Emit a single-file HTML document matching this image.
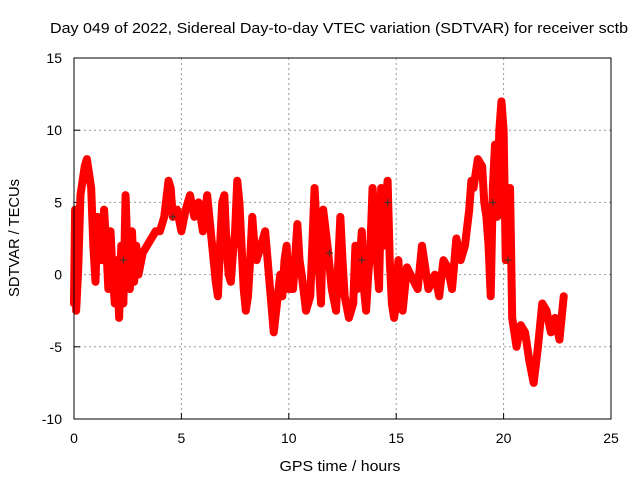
<!DOCTYPE html>
<html><head><meta charset="utf-8"><style>
body{margin:0;background:#fff}
svg{display:block;font-family:"Liberation Sans",sans-serif}
</style></head><body>
<svg id="c" width="640" height="480">
<rect width="640" height="480" fill="#fff"/>
<text x="339" y="33" text-anchor="middle" font-size="15" textLength="578" lengthAdjust="spacingAndGlyphs">Day 049 of 2022, Sidereal Day-to-day VTEC variation (SDTVAR) for receiver sctb</text>
<text x="340" y="471" text-anchor="middle" font-size="15" textLength="121" lengthAdjust="spacingAndGlyphs">GPS time / hours</text>
<text transform="translate(19,238) rotate(-90)" text-anchor="middle" font-size="15" textLength="118" lengthAdjust="spacingAndGlyphs">SDTVAR / TECUs</text>
<g id="grid"></g><g id="marks"></g>
<rect x="74" y="58" width="537" height="361" fill="none" stroke="#000"/>
</svg>
<script>
const xTicks=[0,5,10,15,20,25];
const yTicks=[-10,-5,0,5,10,15];
const times=[0.0,0.05,0.1,0.2,0.3,0.4,0.5,0.6,0.7,0.8,0.85,0.9,1.0,1.1,1.2,1.3,1.4,1.5,1.6,1.7,1.8,1.9,2.0,2.1,2.2,2.3,2.4,2.5,2.6,2.7,2.8,2.9,3.0,3.2,3.4,3.6,3.8,4.0,4.2,4.4,4.5,4.6,4.8,5.0,5.2,5.4,5.6,5.8,6.0,6.2,6.4,6.5,6.6,6.7,6.8,6.9,7.0,7.1,7.2,7.3,7.4,7.5,7.6,7.7,7.8,7.9,8.0,8.1,8.2,8.3,8.4,8.5,8.6,8.8,8.9,9.3,9.6,9.7,9.8,9.9,10.0,10.2,10.4,10.5,10.6,10.8,11.0,11.2,11.3,11.5,11.6,11.8,12.0,12.2,12.4,12.5,12.6,12.8,13.0,13.1,13.2,13.3,13.4,13.5,13.6,13.7,13.8,13.9,14.0,14.1,14.2,14.3,14.4,14.5,14.6,14.7,14.8,14.9,15.0,15.1,15.2,15.3,15.5,16.0,16.2,16.5,16.8,17.0,17.2,17.4,17.6,17.8,18.0,18.2,18.4,18.5,18.6,18.8,19.0,19.1,19.2,19.3,19.4,19.5,19.6,19.7,19.8,19.9,20.0,20.1,20.2,20.3,20.4,20.5,20.6,20.8,21.0,21.2,21.4,21.6,21.8,22.0,22.2,22.4,22.6,22.8];
const values=[-2,4.5,-2.5,0.5,5.5,6.5,7.5,8,7,6,4,2,-0.5,4,3,1,4.5,2,-1,3,0,-2,1,-3,2,-2,5.5,1,-1,3,-0.5,2,0,1.5,2,2.5,3,3,4,6.5,6,4,4.5,3,4.5,5.5,4,5,3,5.5,2.5,1,-0.5,-1.5,2,5,5.5,2,0,-0.5,1.5,3,6.5,5,2,-1,-2.5,-1.5,1,4,2,1,1.5,2.5,3,-4,0,-1.5,1,2,-1,-1,3.5,1,0,-2.5,-1.5,6,3,-2,4.5,2,-1,-2.5,4,1,-1.5,-3,-2,2,-1,1,3,-1,-2.5,0,2,6,4,1,-1,6,2,5,6.5,1,-2,-3,-2,1,-1.5,-2.5,0.5,-1,2,-1,0,-1.5,1,0.5,-1,2.5,1,2,4.5,6.5,6,8,7.5,5,4,2,-1.5,6,9,4,10,12,10,1,5,6,-3,-4,-5,-3.5,-4,-6,-7.5,-5,-2,-2.5,-4,-3,-4.5,-1.5];
const blackTimes=[2.3,4.6,11.9,13.4,14.6,19.5,20.2];
const blackValues=[1,4,1.5,1,5,5,1];
const X=t=>74+t*(537/25), Y=v=>419-(v+10)*(361/25);
const NS="http://www.w3.org/2000/svg";
const grid=document.getElementById('grid'), marks=document.getElementById('marks');
function mk(tag,attrs,parent){const e=document.createElementNS(NS,tag);for(const k in attrs)e.setAttribute(k,attrs[k]);parent.appendChild(e);return e;}
xTicks.forEach(t=>{
  if(t>0&&t<25){const g=mk('line',{x1:X(t),x2:X(t),y1:58,y2:419,stroke:'#999','stroke-dasharray':'2,3'},grid);
  
  }
  const l=mk('text',{x:X(t),y:443,'text-anchor':'middle','font-size':'14'},grid);l.textContent=t;
  
  
  mk('line',{x1:X(t),x2:X(t),y1:419,y2:413,stroke:'#000'},grid);
});
yTicks.forEach(v=>{
  if(v>-10&&v<15){const g=mk('line',{x1:74,x2:611,y1:Y(v),y2:Y(v),stroke:'#999','stroke-dasharray':'2,3'},grid);
  
  }
  const l=mk('text',{x:62,y:Y(v)+5,'text-anchor':'end','font-size':'14'},grid);l.textContent=v;
  
  
  mk('line',{x1:74,x2:80,y1:Y(v),y2:Y(v),stroke:'#000'},grid);
});
const pts=times.map((t,i)=>X(t)+','+Y(values[i])).join(' ');
const pl=mk('polyline',{points:pts,fill:'none',stroke:'#f00','stroke-width':'8','stroke-linejoin':'round','stroke-linecap':'round'},marks);


function plus(x,y,c,name){const p=mk('path',{d:`M${x-3.5},${y}h7M${x},${y-3.5}v7`,stroke:c,'stroke-width':'1'},marks);
  
  }
times.forEach((t,i)=>plus(X(t),Y(values[i]),'#f00','sdtvar-point'));
blackTimes.forEach((t,i)=>plus(X(t),Y(blackValues[i]),'#333','dark-point'));
</script>
</body></html>
